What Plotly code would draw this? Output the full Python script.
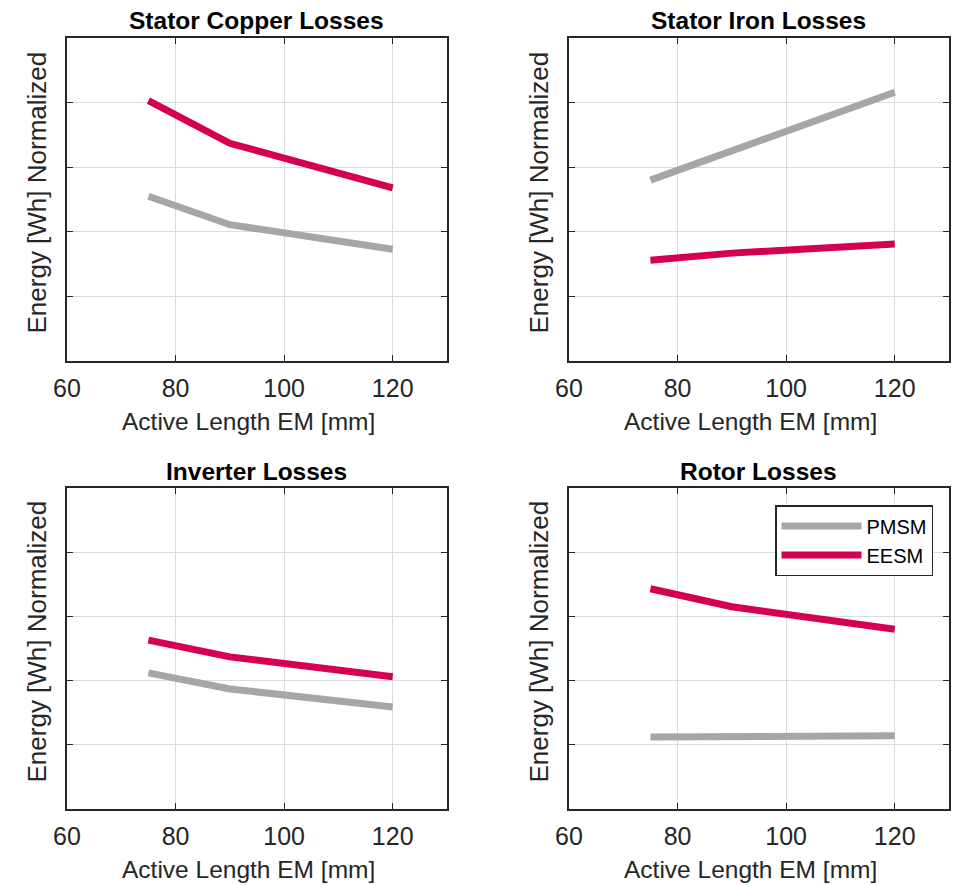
import plotly.graph_objects as go

x_len = [75, 90, 120]
titles = ["Stator Copper Losses", "Stator Iron Losses", "Inverter Losses", "Rotor Losses"]
pmsm = [
    [2.55, 2.11, 1.73],
    [2.80, 3.25, 4.16],
    [2.12, 1.87, 1.59],
    [1.12, 1.12, 1.14],
]
eesm = [
    [4.03, 3.37, 2.68],
    [1.56, 1.67, 1.81],
    [2.63, 2.37, 2.06],
    [3.43, 3.15, 2.80],
]
x_ticks = [60, 80, 100, 120]
y_ticks = [0, 1, 2, 3, 4, 5]

OFF = 8  # default body margin of the page
W, H = 959 - OFF, 885 - OFF
gray = "#A6A6A6"
red = "#D50050"
font = "Liberation Sans, Arial, sans-serif"
txt = "#262626"


def px(p):
    return (p - OFF) / W


def py(p):
    return 1 - (p - OFF) / H


xpx = [[67, 447], [569, 949]]
ypx = [[38, 361], [488, 809]]
xdoms = [[px(a), px(b)] for a, b in xpx]
ydoms = [[py(b), py(a)] for a, b in ypx]

fig = go.Figure()
for i in range(4):
    r, c = divmod(i, 2)
    xa = "x" if i == 0 else f"x{i+1}"
    ya = "y" if i == 0 else f"y{i+1}"
    fig.add_trace(go.Scatter(x=x_len, y=pmsm[i], mode="lines", name="PMSM",
                             line=dict(color=gray, width=7), xaxis=xa, yaxis=ya,
                             showlegend=(i == 3)))
    fig.add_trace(go.Scatter(x=x_len, y=eesm[i], mode="lines", name="EESM",
                             line=dict(color=red, width=7), xaxis=xa, yaxis=ya,
                             showlegend=(i == 3)))
    axx = dict(domain=xdoms[c], range=[60, 130], tickvals=x_ticks, ticks="inside",
               ticklen=6, tickcolor=txt, showline=True, linecolor=txt,
               linewidth=1.5, mirror="ticks", showgrid=True, gridcolor="#DCDCDC",
               gridwidth=1, zeroline=False, anchor=ya, automargin=False,
               ticklabelstandoff=4,
               tickfont=dict(family=font, size=25, color=txt))
    axy = dict(domain=ydoms[r], range=[0, 5], tickvals=y_ticks, ticks="inside",
               ticklen=6, tickcolor=txt, showline=True, linecolor=txt,
               linewidth=1.5, mirror="ticks", showgrid=True, gridcolor="#DCDCDC",
               gridwidth=1, zeroline=False, anchor=xa, showticklabels=False,
               automargin=False)
    fig.layout[("xaxis" if i == 0 else f"xaxis{i+1}")] = axx
    fig.layout[("yaxis" if i == 0 else f"yaxis{i+1}")] = axy
    cx = (xpx[c][0] + xpx[c][1]) / 2
    cy = (ypx[r][0] + ypx[r][1]) / 2
    fig.add_annotation(text="<b>" + titles[i] + "</b>", xref="paper", yref="paper",
                       x=px(cx - 1), y=py(ypx[r][0] - 17),
                       xanchor="center", yanchor="middle", showarrow=False,
                       font=dict(family=font, size=24.5, color="black"))
    fig.add_annotation(text="Active Length EM [mm]", xref="paper", yref="paper",
                       x=px(cx - 9), y=py(ypx[r][1] + 60),
                       xanchor="center", yanchor="middle", showarrow=False,
                       font=dict(family=font, size=24.5, color=txt))
    fig.add_annotation(text="Energy [Wh] Normalized", xref="paper", yref="paper",
                       x=px(xpx[c][0] - 31), y=py(cy - 7), textangle=-90,
                       xanchor="center", yanchor="middle", showarrow=False,
                       font=dict(family=font, size=26, color=txt))

fig.update_layout(
    width=W, height=H, margin=dict(l=0, r=0, t=0, b=0),
    paper_bgcolor="white", plot_bgcolor="white",
    legend=dict(x=px(933), xanchor="right", y=py(505), yanchor="top",
                bordercolor=txt, borderwidth=1.5, bgcolor="white",
                font=dict(family=font, size=20, color="black"),
                itemwidth=80, tracegroupgap=0),
)
fig.write_html("out.html")
